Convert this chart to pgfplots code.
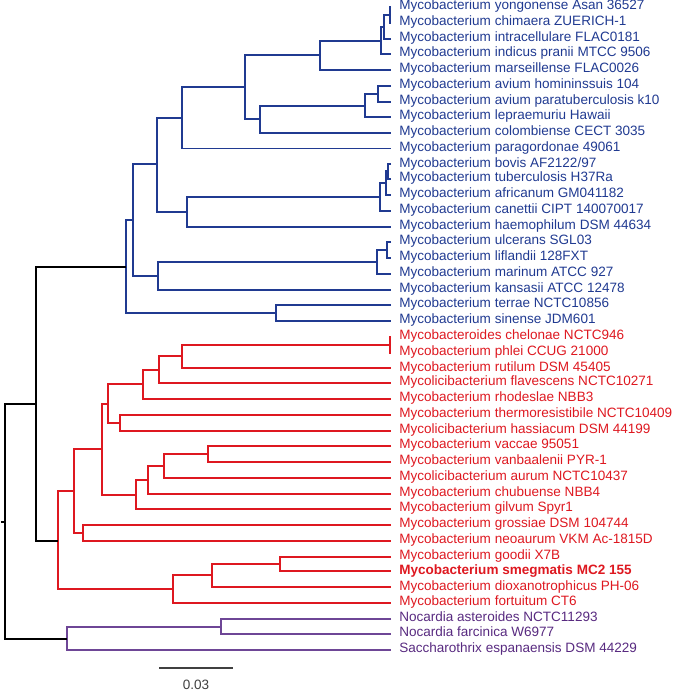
\documentclass[border=0pt]{standalone}
\usepackage{pgfplots}
\pgfplotsset{compat=1.18}
\usepackage{fontspec}
\setmainfont{Liberation Sans}
\definecolor{cblue}{RGB}{32,58,145}
\definecolor{cred}{RGB}{222,24,32}
\definecolor{cpurp}{RGB}{110,70,150}
\definecolor{cpurpt}{RGB}{88,42,128}
\definecolor{cgray}{RGB}{64,64,64}
\pgfplotsset{br/.style={line width=2pt, line join=miter, line cap=butt, mark=none}}
\begin{document}
\begin{tikzpicture}
\begin{axis}[
  x=1pt, y=1pt, y dir=reverse,
  xmin=0, xmax=675, ymin=0, ymax=693,
  hide axis, clip=false, scale only axis,
]
\path (axis cs:0,0) (axis cs:675,693);
% ---------- blue clade ----------
\addplot[br,cblue] coordinates {(392,5) (391,5) (391,21) (392,21)};
\addplot[br,cblue] coordinates {(391,13) (385,13) (385,37) (392,37)};
\addplot[br,cblue] coordinates {(385,25) (382,25) (382,52) (392,52)};
\addplot[br,cblue] coordinates {(382,39) (321,39) (321,68) (392,68)};
\addplot[br,cblue] coordinates {(392,84) (379,84) (379,100) (392,100)};
\addplot[br,cblue] coordinates {(379,92) (366,92) (366,115) (392,115)};
\addplot[br,cblue] coordinates {(366,104) (260,104) (260,131) (392,131)};
\addplot[br,cblue] coordinates {(321,53) (245,53) (245,117) (260,117)};
\addplot[br,cblue] coordinates {(245,85) (182,85) (182,147) (392,147)};
\addplot[br,cblue] coordinates {(392,163) (389,163) (389,178) (392,178)};
\addplot[br,cblue] coordinates {(389,170) (387,170) (387,194) (392,194)};
\addplot[br,cblue] coordinates {(387,182) (381,182) (381,210) (392,210)};
\addplot[br,cblue] coordinates {(381,196) (187,196) (187,226) (392,226)};
\addplot[br,cblue] coordinates {(182,116) (157,116) (157,211) (187,211)};
\addplot[br,cblue] coordinates {(392,241) (388,241) (388,257) (392,257)};
\addplot[br,cblue] coordinates {(388,249) (378,249) (378,273) (392,273)};
\addplot[br,cblue] coordinates {(378,261) (158,261) (158,289) (392,289)};
\addplot[br,cblue] coordinates {(157,163) (133,163) (133,275) (158,275)};
\addplot[br,cblue] coordinates {(392,304) (276,304) (276,320) (392,320)};
\addplot[br,cblue] coordinates {(133,219) (126,219) (126,312) (276,312)};
% ---------- red clade ----------
\addplot[br,cred] coordinates {(392,336) (391,336) (391,352) (392,352)};
\addplot[br,cred] coordinates {(391,344) (182,344) (182,368) (392,368)};
\addplot[br,cred] coordinates {(182,356) (159,356) (159,383) (392,383)};
\addplot[br,cred] coordinates {(159,370) (143,370) (143,399) (392,399)};
\addplot[br,cred] coordinates {(392,415) (120,415) (120,431) (392,431)};
\addplot[br,cred] coordinates {(143,384) (108,384) (108,423) (120,423)};
\addplot[br,cred] coordinates {(392,446) (208,446) (208,462) (392,462)};
\addplot[br,cred] coordinates {(208,454) (164,454) (164,478) (392,478)};
\addplot[br,cred] coordinates {(164,466) (148,466) (148,494) (392,494)};
\addplot[br,cred] coordinates {(148,480) (136,480) (136,509) (392,509)};
\addplot[br,cred] coordinates {(108,404) (101,404) (101,495) (136,495)};
\addplot[br,cred] coordinates {(392,525) (82,525) (82,541) (392,541)};
\addplot[br,cred] coordinates {(101,449) (73,449) (73,533) (82,533)};
\addplot[br,cred] coordinates {(392,557) (280,557) (280,572) (392,572)};
\addplot[br,cred] coordinates {(280,565) (212,565) (212,588) (392,588)};
\addplot[br,cred] coordinates {(212,576) (173,576) (173,604) (392,604)};
\addplot[br,cred] coordinates {(73,491) (57,491) (57,590) (173,590)};
% ---------- purple clade ----------
\addplot[br,cpurp] coordinates {(392,620) (221,620) (221,635) (392,635)};
\addplot[br,cpurp] coordinates {(221,628) (66,628) (66,651) (392,651)};
% ---------- backbone ----------
\addplot[br,black] coordinates {(126,266) (35,266) (35,541) (57,541)};
\addplot[br,black] coordinates {(35,404) (4,404) (4,640) (66,640)};
\addplot[br,black] coordinates {(0,522) (4,522)};
% ---------- scale bar ----------
\addplot[br,cgray] coordinates {(159,669) (233,669)};
\node[cgray, font=\fontsize{13.6}{16}\selectfont] at (axis cs:196,686) {0.03};
% ---------- labels ----------
\begin{scope}[every node/.style={anchor=mid west, inner sep=0pt, font=\fontsize{13.6}{16}\selectfont}]
\node[cblue] at (axis cs:400,5) {Mycobacterium yongonense Asan 36527};
\node[cblue] at (axis cs:400,21) {Mycobacterium chimaera ZUERICH-1};
\node[cblue] at (axis cs:400,37) {Mycobacterium intracellulare FLAC0181};
\node[cblue] at (axis cs:400,52) {Mycobacterium indicus pranii MTCC 9506};
\node[cblue] at (axis cs:400,68) {Mycobacterium marseillense FLAC0026};
\node[cblue] at (axis cs:400,84) {Mycobacterium avium homininssuis 104};
\node[cblue] at (axis cs:400,100) {Mycobacterium avium paratuberculosis k10};
\node[cblue] at (axis cs:400,115) {Mycobacterium lepraemuriu Hawaii};
\node[cblue] at (axis cs:400,131) {Mycobacterium colombiense CECT 3035};
\node[cblue] at (axis cs:400,147) {Mycobacterium paragordonae 49061};
\node[cblue] at (axis cs:400,163) {Mycobacterium bovis AF2122/97};
\node[cblue] at (axis cs:400,178) {Mycobacterium tuberculosis H37Ra};
\node[cblue] at (axis cs:400,194) {Mycobacterium africanum GM041182};
\node[cblue] at (axis cs:400,210) {Mycobacterium canettii CIPT 140070017};
\node[cblue] at (axis cs:400,226) {Mycobacterium haemophilum DSM 44634};
\node[cblue] at (axis cs:400,241) {Mycobacterium ulcerans SGL03};
\node[cblue] at (axis cs:400,257) {Mycobacterium liflandii 128FXT};
\node[cblue] at (axis cs:400,273) {Mycobacterium marinum ATCC 927};
\node[cblue] at (axis cs:400,289) {Mycobacterium kansasii ATCC 12478};
\node[cblue] at (axis cs:400,304) {Mycobacterium terrae NCTC10856};
\node[cblue] at (axis cs:400,320) {Mycobacterium sinense JDM601};
\node[cred] at (axis cs:400,336) {Mycobacteroides chelonae NCTC946};
\node[cred] at (axis cs:400,352) {Mycobacterium phlei CCUG 21000};
\node[cred] at (axis cs:400,368) {Mycobacterium rutilum DSM 45405};
\node[cred] at (axis cs:400,383) {Mycolicibacterium flavescens NCTC10271};
\node[cred] at (axis cs:400,399) {Mycobacterium rhodeslae NBB3};
\node[cred] at (axis cs:400,415) {Mycobacterium thermoresistibile NCTC10409};
\node[cred] at (axis cs:400,431) {Mycolicibacterium hassiacum DSM 44199};
\node[cred] at (axis cs:400,446) {Mycobacterium vaccae 95051};
\node[cred] at (axis cs:400,462) {Mycobacterium vanbaalenii PYR-1};
\node[cred] at (axis cs:400,478) {Mycolicibacterium aurum NCTC10437};
\node[cred] at (axis cs:400,494) {Mycobacterium chubuense NBB4};
\node[cred] at (axis cs:400,509) {Mycobacterium gilvum Spyr1};
\node[cred] at (axis cs:400,525) {Mycobacterium grossiae DSM 104744};
\node[cred] at (axis cs:400,541) {Mycobacterium neoaurum VKM Ac-1815D};
\node[cred] at (axis cs:400,557) {Mycobacterium goodii X7B};
\node[cred] at (axis cs:400,572) {\bfseries Mycobacterium smegmatis MC2 155};
\node[cred] at (axis cs:400,588) {Mycobacterium dioxanotrophicus PH-06};
\node[cred] at (axis cs:400,604) {Mycobacterium fortuitum CT6};
\node[cpurpt] at (axis cs:400,620) {Nocardia asteroides NCTC11293};
\node[cpurpt] at (axis cs:400,635) {Nocardia farcinica W6977};
\node[cpurpt] at (axis cs:400,651) {Saccharothrix espanaensis DSM 44229};
\end{scope}
\end{axis}
\end{tikzpicture}
\end{document}
